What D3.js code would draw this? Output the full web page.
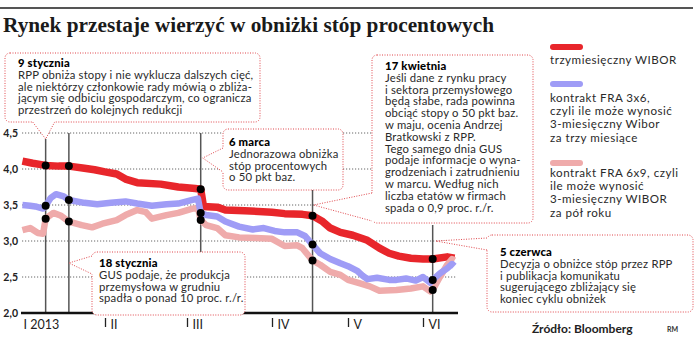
<!DOCTYPE html>
<html><head><meta charset="utf-8">
<script src="https://cdn.jsdelivr.net/npm/d3@7"></script>
<style>
body{margin:0;background:#fff}
svg{display:block}
text{font-family:Lato,"Open Sans",sans-serif;fill:#222}
</style></head><body>
<svg id="c" width="696" height="342"></svg>
<script>
// ---------- DATA ----------
const wiborDates = ["2012-12-31","2013-01-04","2013-01-09","2013-01-14","2013-01-18","2013-01-24","2013-01-28","2013-02-01","2013-02-05","2013-02-08","2013-02-12","2013-02-20","2013-02-26","2013-03-04","2013-03-06","2013-03-07","2013-03-12","2013-03-15","2013-03-22","2013-04-01","2013-04-06","2013-04-13","2013-04-17","2013-04-21","2013-04-24","2013-04-28","2013-05-03","2013-05-09","2013-05-14","2013-05-18","2013-05-22","2013-05-27","2013-06-01","2013-06-05","2013-06-11","2013-06-14"];
const wiborValues = [4.11,4.08,4.05,4.04,4.04,4.01,3.99,3.96,3.93,3.86,3.81,3.79,3.75,3.73,3.72,3.48,3.47,3.43,3.42,3.40,3.38,3.37,3.35,3.27,3.18,3.12,3.08,3.01,2.90,2.83,2.79,2.76,2.75,2.75,2.78,2.76];

const fra3x6Dates = ["2012-12-31","2013-01-03","2013-01-05","2013-01-08","2013-01-09","2013-01-11","2013-01-13","2013-01-16","2013-01-18","2013-01-24","2013-01-29","2013-02-03","2013-02-08","2013-02-12","2013-02-17","2013-02-22","2013-02-26","2013-03-03","2013-03-05","2013-03-06","2013-03-08","2013-03-12","2013-03-15","2013-03-20","2013-03-25","2013-03-29","2013-04-02","2013-04-06","2013-04-11","2013-04-14","2013-04-17","2013-04-20","2013-04-24","2013-04-28","2013-05-01","2013-05-05","2013-05-07","2013-05-09","2013-05-13","2013-05-18","2013-05-21","2013-05-25","2013-05-29","2013-06-01","2013-06-04","2013-06-05","2013-06-08","2013-06-11","2013-06-13","2013-06-14"];
const fra3x6Values = [3.50,3.49,3.48,3.45,3.49,3.60,3.65,3.62,3.57,3.53,3.51,3.53,3.55,3.52,3.49,3.51,3.52,3.57,3.59,3.39,3.36,3.34,3.27,3.20,3.16,3.18,3.14,3.12,3.12,3.07,2.95,2.83,2.75,2.69,2.65,2.58,2.52,2.47,2.49,2.46,2.46,2.48,2.45,2.50,2.42,2.46,2.55,2.62,2.68,2.65];

const fra6x9Dates = ["2012-12-31","2013-01-03","2013-01-06","2013-01-08","2013-01-09","2013-01-12","2013-01-15","2013-01-18","2013-01-23","2013-01-27","2013-01-31","2013-02-05","2013-02-08","2013-02-12","2013-02-15","2013-02-17","2013-02-22","2013-02-26","2013-03-03","2013-03-05","2013-03-06","2013-03-08","2013-03-12","2013-03-15","2013-03-20","2013-03-26","2013-04-01","2013-04-06","2013-04-11","2013-04-13","2013-04-17","2013-04-20","2013-04-24","2013-04-28","2013-05-01","2013-05-06","2013-05-10","2013-05-14","2013-05-21","2013-05-27","2013-06-01","2013-06-04","2013-06-05","2013-06-08","2013-06-11","2013-06-13","2013-06-14"];
const fra6x9Values = [3.15,3.18,3.11,3.10,3.31,3.39,3.35,3.27,3.22,3.19,3.24,3.29,3.36,3.43,3.40,3.31,3.36,3.39,3.45,3.46,3.29,3.22,3.18,3.08,3.05,3.04,3.03,2.93,2.94,2.90,2.73,2.67,2.57,2.53,2.46,2.41,2.37,2.31,2.32,2.34,2.37,2.30,2.32,2.50,2.67,2.75,2.73];

const eventDates = ["2013-01-09","2013-01-18","2013-03-06","2013-04-17","2013-06-05"];
const yTicks = [2.0,2.5,3.0,3.5,4.0,4.5];
const monthTicks = ["2013-01-01","2013-02-01","2013-03-01","2013-04-01","2013-05-01","2013-06-01"];
const monthLabels = ["I 2013","II","III","IV","V","VI"];

const title = "Rynek przestaje wierzyć w obniżki stóp procentowych";
const legendLabels = [
  ["trzymiesięczny WIBOR"],
  ["kontrakt FRA 3x6,","czyli ile może wynosić","3-miesięczny Wibor","za trzy miesiące"],
  ["kontrakt FRA 6x9, czyli","ile może wynosić","3-miesięczny WIBOR","za pół roku"]
];
const notes = [
  ["9 stycznia","RPP obniża stopy i nie wyklucza dalszych cięć,","ale niektórzy członkowie rady mówią o zbliża-","jącym się odbiciu gospodarczym, co ogranicza","przestrzeń do kolejnych redukcji"],
  ["18 stycznia","GUS podaje, że produkcja","przemysłowa w grudniu","spadła o ponad 10 proc. r./r."],
  ["6 marca","Jednorazowa obniżka","stóp procentowych","o 50 pkt baz."],
  ["17 kwietnia","Jeśli dane z rynku pracy","i sektora przemysłowego","będą słabe, rada powinna","obciąć stopy o 50 pkt baz.","w maju, ocenia Andrzej","Bratkowski z RPP.","Tego samego dnia GUS","podaje informacje o wyna-","grodzeniach i zatrudnieniu","w marcu. Według nich","liczba etatów w firmach","spada o 0,9 proc. r./r."],
  ["5 czerwca","Decyzja o obniżce stóp przez RPP","i publikacja komunikatu","sugerującego zbliżający się","koniec cyklu obniżek"]
];
const sourceText = "Źródło: Bloomberg";

// ---------- SETUP ----------
const parse = d3.timeParse("%Y-%m-%d");
const svg = d3.select("#c");
const colors = {wibor:"#e8262b", fra3:"#9f9cf6", fra6:"#efabab"};
const noteColor = "#e0474c";

const x = d3.scaleTime()
  .domain(monthTicks.map(parse))
  .range([25,105,187,272,348,423]);
const y = d3.scaleLinear().domain([2,4.5]).range([313,133]);

const mk = (ds, vs) => ds.map((d,i)=>({date:parse(d), value:vs[i]}));
const series = [
  {key:"wibor", data:mk(wiborDates,wiborValues), w:7.5},
  {key:"fra6", data:mk(fra6x9Dates,fra6x9Values), w:6.5},
  {key:"fra3", data:mk(fra3x6Dates,fra3x6Values), w:6.5}
];

// top rule + title
svg.append("line").attr("x1",0).attr("x2",693).attr("y1",8).attr("y2",8)
  .attr("stroke","#555").attr("stroke-width",2);
svg.append("text").attr("x",3).attr("y",32).text(title)
  .style("font-family","'Liberation Serif',serif").style("font-weight","bold")
  .style("font-size","21.3px").style("fill","#1a1a1a");

// gridlines
svg.append("g").selectAll("line").data(yTicks.filter(d=>d>2)).join("line")
  .attr("x1",22).attr("x2",457).attr("y1",d=>y(d)).attr("y2",d=>y(d))
  .attr("stroke","#666").attr("stroke-width",1).attr("stroke-dasharray","1.2 1.8");

// y axis labels
const ya = svg.append("g").attr("transform","translate(19,0)")
  .call(d3.axisLeft(y).tickValues(yTicks).tickSize(0).tickPadding(1)
    .tickFormat(d=>d.toFixed(1).replace(".",",")));
ya.select(".domain").remove();
ya.selectAll("text").style("font-family","Lato").style("font-size","10.5px")
  .style("font-weight","bold").style("fill","#222");

// event lines
const evTop = [139,133,133,190,225];
svg.append("g").selectAll("line").data(eventDates).join("line")
  .attr("x1",d=>x(parse(d))).attr("x2",d=>x(parse(d)))
  .attr("y1",(d,i)=>evTop[i]).attr("y2",313)
  .attr("stroke","#555").attr("stroke-width",1.5);

// series
const line = d3.line().x(d=>x(d.date)).y(d=>y(d.value)).curve(d3.curveLinear);
svg.append("g").selectAll("path").data(series).join("path")
  .attr("d",d=>line(d.data)).attr("fill","none")
  .attr("stroke",d=>colors[d.key]).attr("stroke-width",d=>d.w)
  .attr("stroke-linejoin","round").attr("stroke-linecap","butt");

// x axis baseline
svg.append("line").attr("x1",21).attr("x2",458).attr("y1",313).attr("y2",313)
  .attr("stroke","#111").attr("stroke-width",2.5);
const xa = svg.append("g").attr("transform","translate(0,318)")
  .call(d3.axisBottom(x).tickValues(monthTicks.map(parse)).tickSize(9)
    .tickFormat((d,i)=>monthLabels[i]));
xa.select(".domain").remove();
xa.selectAll(".tick line").attr("stroke","#222").attr("stroke-width",1.3)
  .attr("opacity",(d,i)=>i===0?0:1);
xa.selectAll(".tick text").attr("text-anchor","start").attr("x",(d,i)=>i===0?-2:5).attr("y",2)
  .attr("dy","0.71em").style("font-family","Lato").style("font-size","12.5px").style("fill","#222");

// dots
const dots = [];
eventDates.forEach(ed=>{
  const t = parse(ed).getTime();
  series.forEach(s=>{
    const p = s.data.find(d=>d.date.getTime()===t);
    if(p) dots.push(p);
  });
});
svg.append("g").selectAll("circle").data(dots).join("circle")
  .attr("cx",d=>x(d.date)).attr("cy",d=>y(d.value)).attr("r",4).attr("fill","#000");

// callouts
const ex = i => x(parse(eventDates[i]));
const boxes = [
  {x:5,y:53,w:255,h:69,side:"bottom",p1:ex(0)-13,p2:ex(0)+9,tip:[ex(0),139],tx:18,ty:67,note:0},
  {x:92,y:252,w:153,h:63,side:"left",p1:256,p2:274,tip:[ex(1),263],tx:99,ty:267,note:1},
  {x:223,y:129,w:120,h:61,side:"left",p1:148,p2:172,tip:[ex(2)+2,158],tx:229,ty:146,note:2},
  {x:372,y:55,w:161,h:168,side:"left",p1:193,p2:221,tip:[ex(3)+1,205],tx:385,ty:70,note:3},
  {x:487,y:235,w:206,h:77,side:"left",p1:238,p2:250,tip:[ex(4)+3,241],tx:500,ty:256,note:4}
];
const cg = svg.append("g");
boxes.forEach(b=>{
  const g = cg.append("g");
  g.append("rect").attr("x",b.x).attr("y",b.y).attr("width",b.w).attr("height",b.h)
    .attr("rx",5).attr("fill","#fff").attr("stroke",noteColor).attr("stroke-width",1)
    .attr("stroke-dasharray","1 1.5");
  let a,c,ai,ci;
  if(b.side==="left"){a=[b.x,b.p1];c=[b.x,b.p2];ai=[b.x+2,b.p1];ci=[b.x+2,b.p2];}
  else {const yy=b.y+b.h;a=[b.p1,yy];c=[b.p2,yy];ai=[b.p1,yy-2];ci=[b.p2,yy-2];}
  g.append("polygon").attr("points",[ai,a,b.tip,c,ci].map(p=>p.join(",")).join(" "))
    .attr("fill","#fff");
  g.append("polyline").attr("points",[a,b.tip,c].map(p=>p.join(",")).join(" "))
    .attr("fill","none").attr("stroke",noteColor).attr("stroke-width",1).attr("stroke-dasharray","1 1.5");
  g.selectAll("text").data(notes[b.note]).join("text")
    .attr("x",b.tx).attr("y",(d,i)=>b.ty+i*11.8).text(d=>d)
    .style("font-size","11.3px").style("letter-spacing","0.18px")
    .style("font-weight",(d,i)=>i===0?"900":"400")
    .style("fill",(d,i)=>i===0?"#000":"#2a2a2a");
});

// legend
const legY = [47,84,163];
const legTextY = [64,102,177];
const legKeys = ["wibor","fra3","fra6"];
const lg = svg.append("g");
legKeys.forEach((k,i)=>{
  lg.append("line").attr("x1",553).attr("x2",580).attr("y1",legY[i]).attr("y2",legY[i])
    .attr("stroke",colors[k]).attr("stroke-width",6).attr("stroke-linecap","round");
  legendLabels[i].forEach((t,j)=>{
    lg.append("text").attr("x",550).attr("y",legTextY[i]+j*13.2).text(t)
      .style("font-size","11.6px").style("letter-spacing","0.5px").style("fill","#2a2a2a");
  });
});

// source
svg.append("text").attr("x",532).attr("y",333).text(sourceText)
  .style("font-size","12px").style("font-weight","bold").style("fill","#222");
svg.append("text").attr("x",667).attr("y",332).text("RM")
  .style("font-size","7px").style("font-weight","bold").style("fill","#333");
</script>
</body></html>
